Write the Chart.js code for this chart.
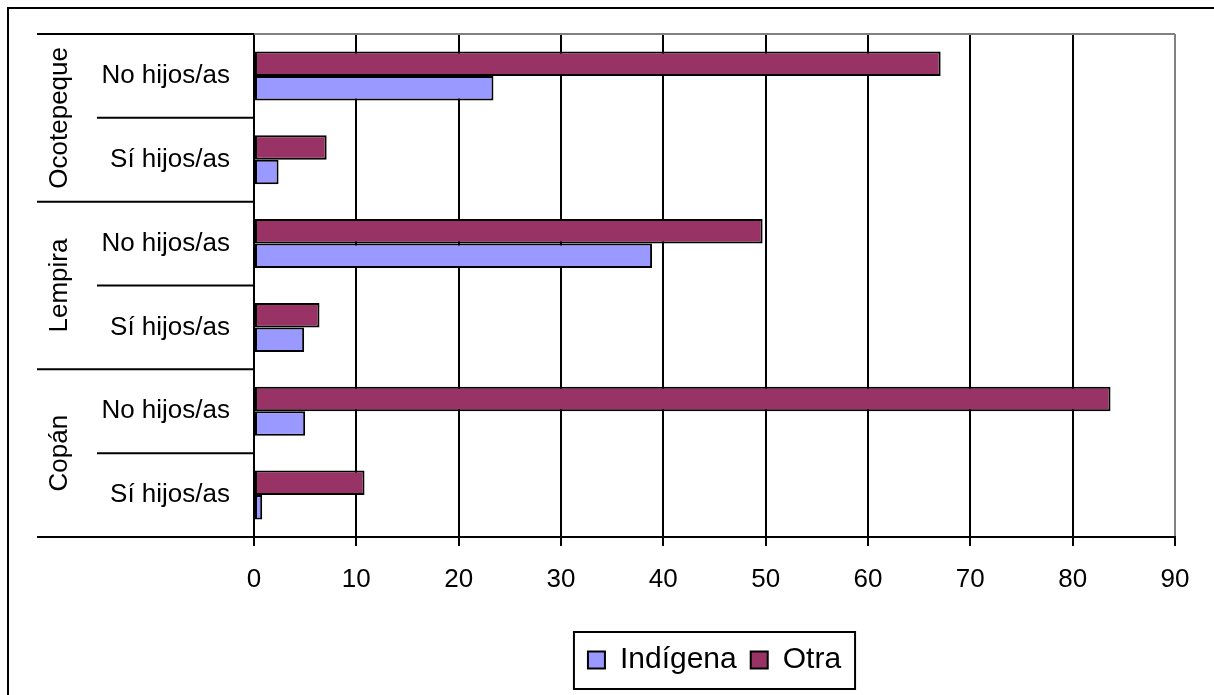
<!DOCTYPE html>
<html>
<head>
<meta charset="utf-8">
<script src="https://cdn.jsdelivr.net/npm/chart.js"></script>
<style>
  body { margin: 0; background: #fff; }
</style>
</head>
<body>
<canvas id="chartBars" width="1214" height="695"></canvas>
<script>
const departments = ["Ocotepeque", "Lempira", "Copán"];
const categories = ["No hijos/as", "Sí hijos/as", "No hijos/as", "Sí hijos/as", "No hijos/as", "Sí hijos/as"];
const indigena = [23.4, 2.4, 38.9, 4.9, 5.0, 0.8];
const otra = [67.1, 7.1, 49.7, 6.4, 83.7, 10.8];
const xTicks = [0, 10, 20, 30, 40, 50, 60, 70, 80, 90];

const FONT = '"Liberation Sans", Arial, sans-serif';

// frame, category separators, group labels and legend box
const framePlugin = {
  id: 'frame',
  beforeDraw(chart) {
    const ctx = chart.ctx;
    ctx.save();
    ctx.fillStyle = '#fff';
    ctx.fillRect(0, 0, chart.width, chart.height);
    ctx.strokeStyle = '#000';
    ctx.lineWidth = 2;
    ctx.beginPath();
    ctx.moveTo(8, chart.height + 2);
    ctx.lineTo(8, 8);
    ctx.lineTo(chart.width + 2, 8);
    ctx.stroke();
    ctx.restore();
  },
  afterDraw(chart) {
    const ctx = chart.ctx;
    const area = chart.chartArea;
    const y = chart.scales.y;
    const n = categories.length;
    const step = (y.bottom - y.top) / n;

    ctx.save();
    ctx.lineWidth = 2;
    ctx.strokeStyle = '#808080';
    ctx.beginPath();
    ctx.moveTo(area.left, area.top);
    ctx.lineTo(area.right, area.top);
    ctx.stroke();

    ctx.strokeStyle = '#000';
    for (let i = 0; i <= n; i++) {
      const yy = i < n ? y.getPixelForValue(i) - step / 2 : y.getPixelForValue(n - 1) + step / 2;
      const x0 = i % 2 === 0 ? area.left - 217 : area.left - 157;
      ctx.beginPath();
      ctx.moveTo(x0, yy);
      ctx.lineTo(area.left, yy);
      ctx.stroke();
    }

    ctx.fillStyle = '#000';
    ctx.font = '26px ' + FONT;
    ctx.textAlign = 'center';
    ctx.textBaseline = 'alphabetic';
    departments.forEach((d, g) => {
      const cy = (y.getPixelForValue(2 * g) + y.getPixelForValue(2 * g + 1)) / 2;
      ctx.save();
      ctx.translate(area.left - 187, cy);
      ctx.rotate(-Math.PI / 2);
      ctx.fillText(d, 0, 0);
      ctx.restore();
    });

    const boxes = chart.legend.legendHitBoxes;
    if (boxes && boxes.length) {
      const l = Math.min(...boxes.map(b => b.left));
      const r = Math.max(...boxes.map(b => b.left + b.width));
      const t = Math.min(...boxes.map(b => b.top));
      const b = Math.max(...boxes.map(b => b.top + b.height));
      ctx.strokeStyle = '#000';
      ctx.lineWidth = 2;
      ctx.strokeRect(l - 14, t - 13, r - l + 28, b - t + 27);
    }
    ctx.restore();
  }
};

const chartBars = new Chart(document.getElementById('chartBars'), {
  type: 'bar',
  data: {
    labels: categories,
    datasets: [
      {
        label: 'Otra',
        data: otra,
        backgroundColor: '#993366',
        borderColor: '#000',
        borderWidth: 2,
        borderSkipped: false,
        categoryPercentage: 0.585,
        barPercentage: 1.0
      },
      {
        label: 'Indígena',
        data: indigena,
        backgroundColor: '#9999FF',
        borderColor: '#000',
        borderWidth: 2,
        borderSkipped: false,
        categoryPercentage: 0.585,
        barPercentage: 1.0
      }
    ]
  },
  options: {
    indexAxis: 'y',
    responsive: false,
    animation: false,
    layout: { padding: { top: 34, right: 39, left: 0, bottom: 10 } },
    plugins: {
      legend: {
        position: 'bottom',
        fullSize: false,
        reverse: true,
        labels: {
          boxWidth: 17,
          boxHeight: 17,
          padding: 14,
          color: '#000',
          font: { family: FONT, size: 30 }
        }
      },
      tooltip: { enabled: false }
    },
    scales: {
      x: {
        min: xTicks[0],
        max: xTicks[xTicks.length - 1],
        afterFit: (scale) => { scale.height = 94; },
        afterBuildTicks: (scale) => { scale.ticks = xTicks.map(v => ({ value: v })); },
        ticks: {
          color: '#000',
          padding: 18,
          maxRotation: 0,
          font: { family: FONT, size: 26 }
        },
        grid: {
          color: (c) => (c.tick && c.tick.value === 90 ? '#808080' : '#000'),
          tickColor: '#000',
          lineWidth: 2,
          tickLength: 9
        },
        border: { color: '#000', width: 2 }
      },
      y: {
        afterFit: (scale) => {
          scale.width = 254;
          scale.paddingTop = 0;
          scale.paddingBottom = 0;
        },
        ticks: {
          color: '#000',
          padding: 24,
          font: { family: FONT, size: 26 }
        },
        grid: { display: true, drawOnChartArea: false, drawTicks: false, color: 'rgba(0,0,0,0)' },
        border: { color: '#000', width: 2 }
      }
    }
  },
  plugins: [framePlugin]
});
</script>
</body>
</html>
